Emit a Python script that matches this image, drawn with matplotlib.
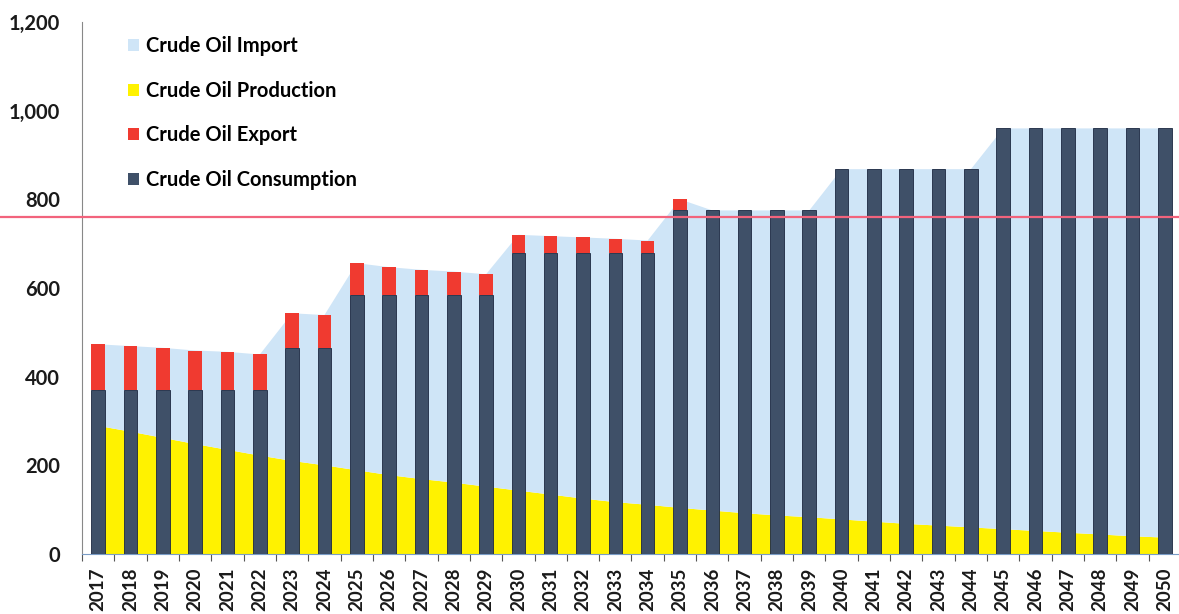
import matplotlib
matplotlib.use("Agg")
import matplotlib.pyplot as plt
from matplotlib.patches import Patch
import numpy as np

years = list(range(2017, 2051))
consumption = [370, 370, 370, 370, 370, 370, 465, 465, 585, 585, 585, 585, 585,
               680, 680, 680, 680, 680, 775, 775, 775, 775, 775,
               868, 868, 868, 868, 868, 960, 960, 960, 960, 960, 960]
export = [103, 99, 95, 89, 86, 80, 78, 74, 71, 62, 56, 52, 46,
          40, 37, 34, 31, 27, 25, 0, 0, 0, 0,
          0, 0, 0, 0, 0, 0, 0, 0, 0, 0, 0]
production = [289, 276, 262, 248, 235, 222, 210, 200, 189, 178, 169, 161, 152,
              143, 134, 125, 117, 111, 104, 98, 92, 87, 83,
              78, 73, 68, 64, 60, 56, 52, 48, 44, 40, 37]
imports = [184, 193, 203, 211, 221, 228, 333, 339, 467, 469, 472, 476, 479,
           577, 583, 589, 594, 596, 696, 677, 683, 688, 692,
           790, 795, 800, 804, 808, 904, 908, 912, 916, 920, 923]
reference_level = 760

yticks = [0, 200, 400, 600, 800, 1000, 1200]

C_IMPORT = "#cfe5f7"
C_PROD = "#fff200"
C_EXPORT = "#f03a30"
C_CONS = "#3f5068"
C_LINE = "#f2637c"

plt.rcParams['font.family'] = ['Lato', 'DejaVu Sans']

fig = plt.figure(figsize=(11.79, 6.14), dpi=100)
ax = fig.add_axes([82/1179, (614-554)/614, (1181-82)/1179, (554-22)/614])

x = np.arange(len(years))
ax.stackplot(x, production, imports, colors=[C_PROD, C_IMPORT], zorder=1)
ax.bar(x, consumption, width=0.42, color=C_CONS, edgecolor="#1c2840", linewidth=0.6, zorder=3)
ax.bar(x, export, width=0.42, bottom=consumption, color=C_EXPORT, linewidth=0, zorder=3)

ax.axhline(reference_level, xmin=-0.08, xmax=1.0, color=C_LINE, linewidth=1.6, zorder=4, clip_on=False)

ax.set_xlim(-0.5, len(years) - 0.5)
ax.set_ylim(0, 1200)
ax.set_yticks(yticks)
ax.set_yticklabels([f"{v:,}" for v in yticks], fontsize=14.5, fontweight='bold', color="#1a1a1a")
ax.tick_params(axis='y', length=0, pad=16)

ax.set_xticks(x)
ax.set_xticklabels([str(y) for y in years], rotation=90, fontsize=13.5, fontweight='bold', color="#1a1a1a")
ax.set_xticks(np.arange(-0.5, len(years), 1.0), minor=True)
ax.tick_params(axis='x', which='major', length=0, pad=10)
ax.tick_params(axis='x', which='minor', length=5, width=0.8, color="#555555", direction='out')

for s in ['top', 'right']:
    ax.spines[s].set_visible(False)
ax.spines['left'].set_color("#888888")
ax.spines['left'].set_linewidth(0.8)
ax.spines['bottom'].set_color("#7a9cc6")
ax.spines['bottom'].set_linewidth(0.8)

handles = [Patch(facecolor=C_IMPORT), Patch(facecolor=C_PROD),
           Patch(facecolor=C_EXPORT), Patch(facecolor=C_CONS)]
labels = ["Crude Oil Import", "Crude Oil Production", "Crude Oil Export", "Crude Oil Consumption"]
fig.legend(handles, labels, loc='upper left', bbox_to_anchor=(110/1179, 1 - 18/614),
           frameon=False, handlelength=0.55, handleheight=0.55, handletextpad=0.35,
           labelspacing=1.22, prop={'family': ['Lato', 'DejaVu Sans'], 'weight': 'bold', 'size': 14.5})

fig.savefig("out.png", dpi=100)
